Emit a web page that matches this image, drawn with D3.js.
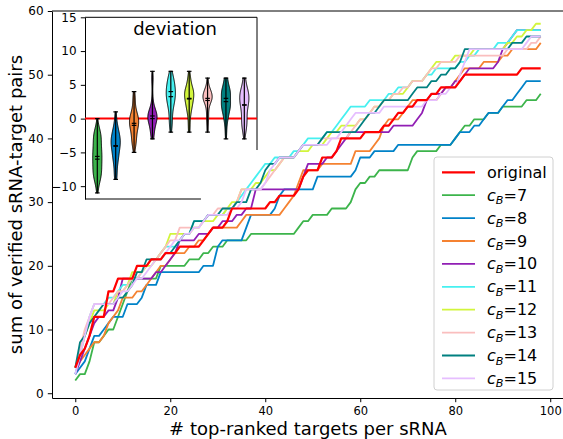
<!DOCTYPE html>
<html>
<head>
<meta charset="utf-8">
<script src="https://cdn.jsdelivr.net/npm/d3@7"></script>
<style>
body { margin: 0; background: #fff; }
svg { font-family: "DejaVu Sans", sans-serif; }
</style>
</head>
<body>
<div id="chart"></div>
<script>
// rank axis: 0..98 top-ranked targets
const ranks = d3.range(0, 99)

const original = [4,6,7,9,12,12,12,16,16,18, 18,18,18,20,20,20,21,21,21,22,
  22,22,23,23,23,23,23,24,25,26, 26,26,27,29,29,29,29,29,29,29,
  29,30,30,31,31,31,31,32,34,35, 35,35,37,37,37,38,40,40,40,40,
  40,41,41,41,41,42,42,43,44,44, 45,45,46,46,46,47,47,48,48,48,
  48,49,50,50,50,50,50,50,50,50, 50,50,50,50,51,51,51,51,51]
const cB7 = [2,3,3,5,8,8,9,10,10,12, 14,16,18,18,18,18,18,18,20,20,
  20,20,20,20,21,21,21,22,22,23, 23,23,24,24,24,24,24,25,25,25,
  25,25,25,25,25,25,25,26,27,27, 28,28,28,28,29,29,29,29,30,32,
  33,33,34,34,35,35,35,35,35,35, 35,37,38,38,38,38,38,39,39,39,
  40,41,42,42,43,43,43,44,44,44, 45,45,45,45,45,46,46,46,47]
const cB8 = [3,4,5,7,9,9,10,11,12,12, 12,14,14,14,15,17,17,17,19,19,
  19,19,19,19,19,19,19,20,20,20, 23,24,24,24,24,24,26,28,28,28,
  28,28,29,31,32,32,32,32,32,32, 32,34,34,34,34,34,34,34,34,35,
  37,37,37,38,38,38,38,38,39,39, 39,39,39,39,39,39,39,39,39,39,
  40,41,41,41,42,42,43,44,44,44, 45,46,46,47,48,49,49,49,49]
const cB9 = [4,5,6,7,8,8,9,11,12,13, 15,15,15,16,16,17,18,19,20,20,
  21,22,22,22,23,23,24,24,25,26, 26,26,26,26,26,27,28,28,28,28,
  28,28,28,28,29,30,31,33,35,35, 35,35,36,36,36,36,36,36,36,38,
  38,38,38,39,40,42,43,43,43,44, 45,46,46,46,46,46,46,47,48,48,
  49,50,51,51,51,51,52,52,52,52, 53,53,54,54,54,54,54,54,55]
const cB10 = [3,5,7,9,11,12,12,13,13,15, 18,18,18,18,18,18,18,19,19,20,
  21,22,24,24,24,24,25,25,25,26, 26,27,27,27,28,28,29,29,32,32,
  32,32,32,32,32,32,32,32,34,36, 36,36,36,37,37,38,39,40,41,41,
  41,41,41,41,41,41,41,42,42,42, 42,42,43,44,46,47,47,47,48,48,
  49,49,50,51,51,51,51,51,51,52, 54,55,56,57,57,57,57,57,57]
const cB11 = [3,6,9,12,14,14,14,15,15,16, 17,17,18,18,19,20,21,21,22,23,
  23,23,24,25,25,27,27,27,28,28, 28,28,29,29,30,31,32,33,34,35,
  36,36,37,37,37,37,38,38,39,40, 40,40,40,41,41,42,43,44,45,45,
  45,45,46,46,46,46,47,47,48,48, 48,49,49,49,50,50,51,51,51,51,
  51,52,52,53,53,54,54,54,54,55, 55,55,56,57,57,57,57,57,57]
const cB12 = [4,6,9,11,13,13,13,14,14,16, 16,17,19,19,19,20,20,21,22,23,
  25,25,25,25,25,26,26,27,27,27, 28,28,29,30,30,32,32,32,33,33,
  34,35,35,36,37,37,37,38,38,38, 39,39,39,40,41,41,42,42,42,42,
  43,43,44,45,45,46,46,47,47,47, 48,49,49,49,50,51,52,52,52,52,
  53,53,53,53,54,54,54,54,54,54, 54,55,55,56,56,57,57,58,58]
const cB13 = [4,7,10,12,14,14,14,14,15,16, 16,17,18,18,19,20,21,21,22,23,
  24,24,26,26,26,26,26,27,28,28, 29,29,29,29,30,32,32,32,32,32,
  33,34,35,36,37,37,37,38,39,39, 39,39,40,40,40,40,40,40,41,42,
  43,43,44,45,45,46,46,47,47,48, 48,49,49,49,50,51,51,52,52,52,
  52,53,53,53,53,53,53,53,53,53, 53,54,54,54,54,54,55,55,56]
const cB14 = [4,8,9,11,12,13,14,14,14,15, 15,16,17,19,19,21,21,21,21,22,
  22,23,24,25,25,27,27,27,28,28, 28,29,29,29,30,30,30,32,32,33,
  35,36,36,37,37,37,37,38,39,39, 39,39,40,41,41,41,41,41,41,41,
  42,43,44,44,45,46,46,46,46,46, 46,47,48,48,48,49,49,50,50,51,
  51,52,54,54,54,54,54,54,54,54, 54,54,55,55,55,56,56,56,56]
const cB15 = [3,6,9,12,14,14,14,14,14,15, 16,16,17,18,18,19,20,21,21,22,
  23,24,24,25,25,26,26,27,28,28, 28,28,28,29,29,30,32,32,32,32,
  33,35,36,37,37,37,37,38,39,39, 39,39,39,39,40,40,41,42,43,44,
  44,44,44,44,44,45,45,45,45,45, 45,45,45,45,46,46,46,47,47,48,
  48,50,52,54,54,54,54,54,54,54, 54,54,54,54,54,55,56,56,56]

const cBValues = [7, 8, 9, 10, 11, 12, 13, 14, 15]
const cBSeries = [cB7, cB8, cB9, cB10, cB11, cB12, cB13, cB14, cB15]
const colors = ['#ff0000', '#3cb44b', '#0082c8', '#f58231', '#911eb4',
  '#46f0f0', '#d2f53c', '#fabebe', '#008080', '#e6beff']

const xTicks = [0, 20, 40, 60, 80, 100]
const yTicks = [0, 10, 20, 30, 40, 50, 60]
const insetTicks = [-10, -5, 0, 5, 10, 15]

const W = 563, H = 439

var svg = d3.select('#chart').append('svg')
  .attr('width', W)
  .attr('height', H)

var x = d3.scaleLinear().domain([-4.9, 102.9]).range([52, 564])
var y = d3.scaleLinear().domain([-0.75, 60]).range([398, 11])

function styleAxis(g, size) {
  g.select('.domain').attr('stroke', '#000').attr('stroke-width', 1)
  g.selectAll('.tick line').attr('stroke', '#000').attr('stroke-width', 1)
  g.selectAll('.tick text').attr('fill', '#000').style('font-size', size + 'px')
    .attr('font-family', 'DejaVu Sans')
}

// ---- inset: deviation violins (drawn under the curves) ----
var xi = d3.scaleLinear().domain([0.33, 9.69]).range([85, 257])
var yi = d3.scaleLinear().domain([-11.9, 15]).range([199, 17.3])

var inset = svg.append('g').attr('class', 'inset')

inset.append('g')
  .attr('transform', 'translate(' + xi.range()[0] + ',0)')
  .call(d3.axisLeft(yi).tickValues(insetTicks).tickSize(4.2).tickPadding(4.2).tickSizeOuter(0)
    .tickFormat(d => d < 0 ? '\u2212' + Math.abs(d) : d))
  .call(styleAxis, 12)

// top spine, and right / bottom spines that stop where the original frame was cut
inset.append('line')
  .attr('x1', xi.range()[0]).attr('x2', xi.range()[1])
  .attr('y1', yi(15)).attr('y2', yi(15))
  .attr('stroke', '#000').attr('stroke-width', 1)
inset.append('line')
  .attr('x1', xi.range()[1]).attr('x2', xi.range()[1])
  .attr('y1', yi(15)).attr('y2', yi(-4.65))
  .attr('stroke', '#000').attr('stroke-width', 1)
inset.append('line')
  .attr('x1', xi.range()[0]).attr('x2', xi(6.64))
  .attr('y1', yi.range()[0]).attr('y2', yi.range()[0])
  .attr('stroke', '#000').attr('stroke-width', 1)

inset.append('line')
  .attr('x1', xi.range()[0]).attr('x2', xi.range()[1])
  .attr('y1', yi(0)).attr('y2', yi(0))
  .attr('stroke', '#ff0000').attr('stroke-width', 2)

inset.append('text')
  .attr('x', 175).attr('y', 35)
  .attr('text-anchor', 'middle')
  .style('font-size', '18px')
  .text('deviation')

// gaussian kde with Scott's rule, evaluated between min and max
function kde(values, n) {
  var N = values.length
  var sd = d3.deviation(values)
  var bw = sd * Math.pow(N, -1 / 5)
  var lo = d3.min(values), hi = d3.max(values)
  return d3.range(n).map(k => {
    var p = lo + (hi - lo) * k / (n - 1)
    var dens = d3.mean(values, v => Math.exp(-0.5 * ((p - v) / bw) ** 2)) / (bw * Math.sqrt(2 * Math.PI))
    return {p: p, d: dens}
  })
}

cBSeries.forEach((s, k) => {
  var pos = k + 1
  var dev = ranks.map(i => s[i] - original[i])
  var pts = kde(dev, 100)
  var maxd = d3.max(pts, d => d.d)
  var area = d3.area()
    .y(d => yi(d.p))
    .x0(d => xi(pos - 0.25 * d.d / maxd))
    .x1(d => xi(pos + 0.25 * d.d / maxd))
  inset.append('path')
    .datum(pts)
    .attr('d', area)
    .attr('fill', colors[k + 1])
    .attr('stroke', '#000')
    .attr('stroke-width', 1)

  var mn = d3.min(dev), mx = d3.max(dev)
  var stats = [mn, mx, d3.mean(dev), d3.median(dev)]
  inset.append('line')
    .attr('x1', xi(pos)).attr('x2', xi(pos))
    .attr('y1', yi(mn)).attr('y2', yi(mx))
    .attr('stroke', '#000').attr('stroke-width', 1.2)
  stats.forEach(v => {
    inset.append('line')
      .attr('x1', xi(pos - 0.125)).attr('x2', xi(pos + 0.125))
      .attr('y1', yi(v)).attr('y2', yi(v))
      .attr('stroke', '#000').attr('stroke-width', 1.2)
  })
})

// ---- main axes ----
svg.append('g')
  .attr('transform', 'translate(0,' + y.range()[0] + ')')
  .call(d3.axisBottom(x).tickValues(xTicks).tickSize(4.2).tickPadding(4.5).tickSizeOuter(0))
  .call(styleAxis, 11.5)

svg.append('g')
  .attr('transform', 'translate(' + x.range()[0] + ',0)')
  .call(d3.axisLeft(y).tickValues(yTicks).tickSize(4.2).tickPadding(4.2).tickSizeOuter(0))
  .call(styleAxis, 12)

svg.append('line')
  .attr('x1', x.range()[0]).attr('x2', x.range()[1])
  .attr('y1', y.range()[1]).attr('y2', y.range()[1])
  .attr('stroke', '#000').attr('stroke-width', 1)

svg.append('text')
  .attr('x', (x.range()[0] + x.range()[1]) / 2)
  .attr('y', 435)
  .attr('text-anchor', 'middle')
  .style('font-size', '18px')
  .text('# top-ranked targets per sRNA')

svg.append('text')
  .attr('transform', 'translate(22,' + ((y.range()[0] + y.range()[1]) / 2) + ') rotate(-90)')
  .attr('text-anchor', 'middle')
  .style('font-size', '18px')
  .text('sum of verified sRNA-target pairs')

var line = d3.line()
  .x((d, i) => x(ranks[i]))
  .y(d => y(d))

var curves = svg.append('g').attr('class', 'curves')
cBSeries.forEach((s, k) => {
  curves.append('path')
    .datum(s)
    .attr('d', line)
    .attr('fill', 'none')
    .attr('stroke', colors[k + 1])
    .attr('stroke-width', 1.8)
    .attr('stroke-linejoin', 'round')
})
curves.append('path')
  .datum(original)
  .attr('d', line)
  .attr('fill', 'none')
  .attr('stroke', colors[0])
  .attr('stroke-width', 2.2)
  .attr('stroke-linejoin', 'round')

// ---- legend ----
var legend = svg.append('g').attr('transform', 'translate(434,157)')
legend.append('rect')
  .attr('width', 119).attr('height', 233)
  .attr('rx', 3)
  .attr('fill', '#fff').attr('fill-opacity', 0.8)
  .attr('stroke', '#d0d0d0').attr('stroke-width', 1)

var entries = ['original'].concat(cBValues)
entries.forEach((e, k) => {
  var cy = 15.3 + k * 22.9
  legend.append('line')
    .attr('x1', 8).attr('x2', 41)
    .attr('y1', cy).attr('y2', cy)
    .attr('stroke', colors[k])
    .attr('stroke-width', k === 0 ? 2.2 : 1.8)
  var t = legend.append('text')
    .attr('x', 53).attr('y', cy + 5.5)
    .style('font-size', '16px')
  if (k === 0) {
    t.text(e)
  } else {
    t.append('tspan').attr('font-style', 'italic').text('c')
    t.append('tspan').attr('font-style', 'italic').attr('dy', 3.5)
      .style('font-size', '11.2px').text('B')
    t.append('tspan').attr('dy', -3.5).text('=' + e)
  }
})
</script>
</body>
</html>
